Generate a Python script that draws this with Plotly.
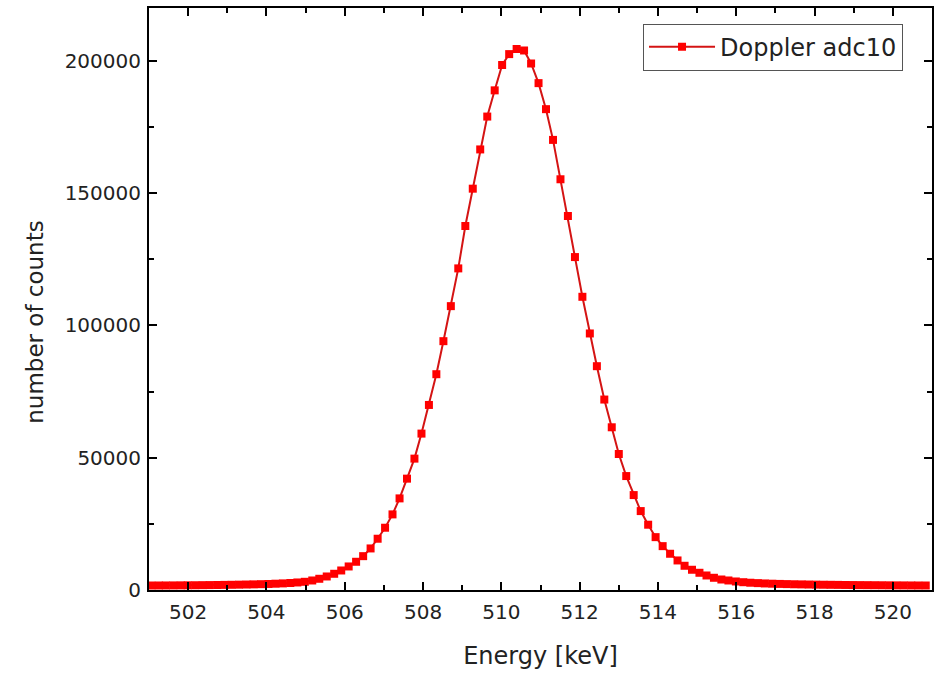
import plotly.graph_objects as go

energy_kev = [
    501.06, 501.25, 501.43, 501.62, 501.81, 501.99, 502.18, 502.37, 502.55, 502.74,
    502.93, 503.11, 503.30, 503.49, 503.67, 503.86, 504.05, 504.23, 504.42, 504.61,
    504.79, 504.98, 505.17, 505.35, 505.54, 505.73, 505.91, 506.10, 506.29, 506.47,
    506.66, 506.84, 507.03, 507.22, 507.40, 507.59, 507.78, 507.96, 508.15, 508.34,
    508.52, 508.71, 508.90, 509.08, 509.27, 509.46, 509.64, 509.83, 510.02, 510.20,
    510.39, 510.58, 510.76, 510.95, 511.14, 511.32, 511.51, 511.70, 511.88, 512.07,
    512.26, 512.44, 512.63, 512.82, 513.00, 513.19, 513.38, 513.56, 513.75, 513.94,
    514.12, 514.31, 514.50, 514.68, 514.87, 515.06, 515.24, 515.43, 515.62, 515.80,
    515.99, 516.18, 516.36, 516.55, 516.73, 516.92, 517.11, 517.29, 517.48, 517.67,
    517.85, 518.04, 518.23, 518.41, 518.60, 518.79, 518.97, 519.16, 519.35, 519.53,
    519.72, 519.91, 520.09, 520.28, 520.47, 520.65, 520.84,
]

counts = [
    1700, 1710, 1720, 1740, 1760, 1780, 1800, 1830, 1860, 1890,
    1930, 1970, 2020, 2070, 2130, 2200, 2280, 2380, 2500, 2650,
    2850, 3100, 3600, 4240, 5110, 6130, 7380, 8900, 10670, 12790,
    15710, 19380, 23540, 28580, 34630, 42090, 49660, 59120, 69950, 81570,
    94060, 107300, 121570, 137590, 151700, 166540, 178960, 188870, 198450, 202570,
    204500, 203940, 199020, 191600, 181760, 170140, 155260, 141370, 125850, 110830,
    96970, 84600, 71990, 61510, 51400, 43070, 35880, 29830, 24680, 19980,
    16580, 13700, 11170, 9160, 7650, 6510, 5490, 4620, 3970, 3600,
    3220, 2950, 2750, 2600, 2480, 2380, 2300, 2230, 2170, 2120,
    2070, 2030, 1990, 1960, 1930, 1900, 1870, 1850, 1830, 1810,
    1790, 1770, 1750, 1740, 1720, 1710, 1700,
]

series_name = "Doppler adc10"
x_title = "Energy [keV]"
y_title = "number of counts"
x_tick_values = [502, 504, 506, 508, 510, 512, 514, 516, 518, 520]
y_tick_values = [0, 50000, 100000, 150000, 200000]

assert len(energy_kev) == len(counts)

FONT = "DejaVu Sans"
TXT = "#222222"

fig = go.Figure()
fig.add_trace(go.Scatter(
    x=energy_kev, y=counts, mode="lines+markers", name=series_name,
    line=dict(color="#d41414", width=2),
    marker=dict(symbol="square", size=8, color="#ff0000",
                line=dict(width=0)),
))

axis_common = dict(
    showline=True, linecolor="black", linewidth=2, mirror="allticks",
    ticks="inside", ticklen=8, tickwidth=2, tickcolor="black",
    showgrid=False, zeroline=False,
    tickfont=dict(family=FONT, size=20, color=TXT),
)

fig.update_xaxes(
    range=[501, 521], tickvals=x_tick_values,
    minor=dict(ticks="inside", ticklen=5, tickwidth=2, tickcolor="black", dtick=1, tick0=501),
    title=dict(text=x_title, font=dict(family=FONT, size=24, color=TXT), standoff=24),
    ticklabelstandoff=3,
    **axis_common,
)
fig.update_yaxes(
    range=[0, 220000], tickvals=y_tick_values, tickformat="d",
    minor=dict(ticks="inside", ticklen=5, tickwidth=2, tickcolor="black", dtick=25000, tick0=0),
    ticklabelstandoff=2,
    **axis_common,
)

fig.add_annotation(
    text=y_title, xref="paper", yref="paper", x=-0.145, y=0.46,
    xanchor="center", yanchor="middle", textangle=-90, showarrow=False,
    font=dict(family=FONT, size=23, color=TXT),
)

fig.update_layout(
    width=936, height=674,
    margin=dict(l=149, r=2, t=8, b=84),
    paper_bgcolor="white", plot_bgcolor="white",
    showlegend=True,
    legend=dict(
        x=0.963, y=0.973, xanchor="right", yanchor="top",
        bgcolor="white", bordercolor="#555555", borderwidth=1,
        font=dict(family=FONT, size=24, color=TXT),
        itemwidth=66, tracegroupgap=0,
    ),
)

# Remove the default 8px page margin so the figure fills the window exactly.
fig.write_html(
    "out.html",
    config={"displayModeBar": False},
    post_script="document.body.style.margin='0';document.body.style.overflow='hidden';",
)
